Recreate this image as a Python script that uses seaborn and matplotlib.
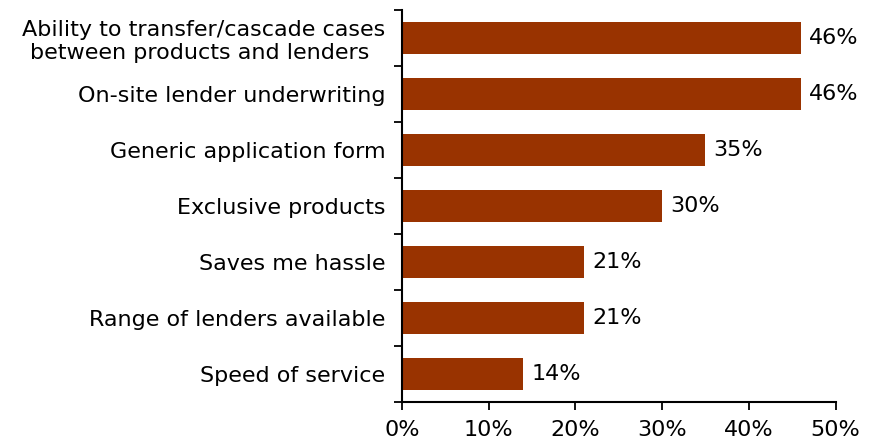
import matplotlib
matplotlib.use("Agg")
import matplotlib.pyplot as plt
import seaborn as sns
import numpy as np
import pandas as pd
from matplotlib.ticker import FixedLocator

categories = [
    "Ability to transfer/cascade cases\nbetween products and lenders ",
    "On-site lender underwriting",
    "Generic application form",
    "Exclusive products",
    "Saves me hassle",
    "Range of lenders available",
    "Speed of service",
]
values = [46, 46, 35, 30, 21, 21, 14]
x_ticks = [0, 10, 20, 30, 40, 50]
x_tick_labels = ["0%", "10%", "20%", "30%", "40%", "50%"]

df = pd.DataFrame({"reason": categories, "pct": values})

sns.set_theme(style="white")
plt.rcParams["font.family"] = ["DejaVu Sans"]

fig = plt.figure(figsize=(8.74, 4.44), dpi=100)
ax = fig.add_axes([0.46, 0.0946, 0.496, 0.883])

bar_color = "#993300"
sns.barplot(data=df, x="pct", y="reason", orient="h", color=bar_color,
            saturation=1, width=0.57, linewidth=0, ax=ax)

fs = 16
for i, v in enumerate(values):
    ax.text(v + 0.9, i, f"{v}%", va="center", ha="left", fontsize=fs, color="black")

ax.set_xlim(0, 50)
ax.set_ylim(len(categories) - 0.5, -0.5)
ax.set_xticks(x_ticks)
ax.set_xticklabels(x_tick_labels, fontsize=fs)
ax.set_xlabel("")
ax.set_ylabel("")

ax.set_yticks(range(len(categories)))
ax.set_yticklabels(categories, fontsize=fs, multialignment="center")
ax.yaxis.set_minor_locator(FixedLocator(np.arange(-0.5, len(categories), 1.0)))

for side in ["top", "right"]:
    ax.spines[side].set_visible(False)
for side in ["left", "bottom"]:
    ax.spines[side].set_color("black")
    ax.spines[side].set_linewidth(1.5)

ax.tick_params(axis="y", which="major", length=0, pad=12, colors="black")
ax.tick_params(axis="y", which="minor", length=6, width=1.3, color="black", direction="out", left=True)
ax.tick_params(axis="x", which="major", length=6, width=1.3, color="black", direction="out",
               bottom=True, pad=7, colors="black")
ax.grid(False)

fig.savefig("out.png", dpi=100)
